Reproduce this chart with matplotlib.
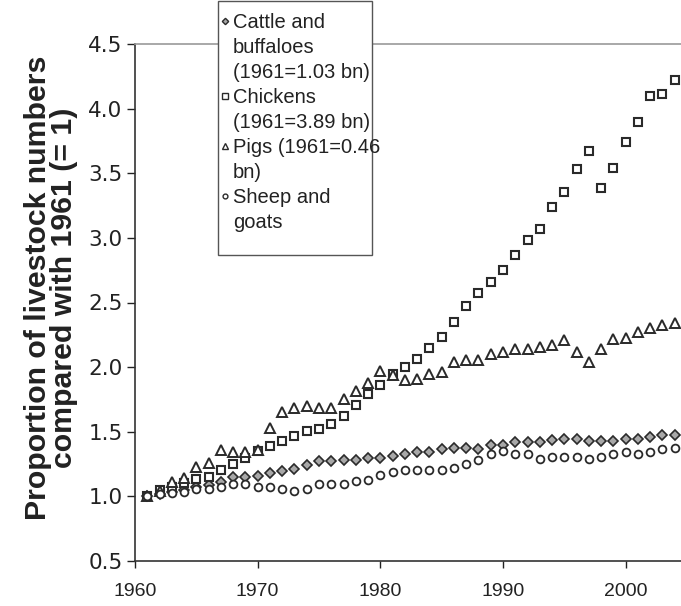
import matplotlib
matplotlib.use("Agg")
import matplotlib.pyplot as plt
from matplotlib.lines import Line2D
from matplotlib.patches import Rectangle

plt.rcParams['font.family'] = ['Liberation Sans', 'DejaVu Sans']

years = list(range(1961, 2005))

cattle = [1.00, 1.015, 1.03, 1.05, 1.07, 1.09, 1.115, 1.15, 1.15, 1.16,
          1.18, 1.20, 1.215, 1.245, 1.27, 1.27, 1.285, 1.285, 1.30, 1.30,
          1.315, 1.33, 1.345, 1.345, 1.365, 1.375, 1.375, 1.37, 1.40, 1.40,
          1.42, 1.42, 1.42, 1.435, 1.445, 1.445, 1.43, 1.43, 1.43, 1.445,
          1.445, 1.46, 1.475, 1.475]

chickens = [1.00, 1.05, 1.07, 1.10, 1.135, 1.15, 1.205, 1.25, 1.295, 1.35,
            1.39, 1.43, 1.465, 1.505, 1.52, 1.56, 1.62, 1.705, 1.79, 1.86,
            1.945, 2.00, 2.06, 2.145, 2.23, 2.35, 2.47, 2.57, 2.66, 2.755,
            2.87, 2.98, 3.07, 3.24, 3.355, 3.53, 3.67, 3.385, 3.54, 3.74,
            3.90, 4.10, 4.11, 4.225]

pigs = [1.00, 1.04, 1.11, 1.145, 1.225, 1.255, 1.36, 1.345, 1.34, 1.355,
        1.53, 1.655, 1.685, 1.70, 1.685, 1.685, 1.755, 1.815, 1.88, 1.97,
        1.94, 1.90, 1.91, 1.95, 1.96, 2.04, 2.055, 2.055, 2.105, 2.115,
        2.14, 2.14, 2.155, 2.17, 2.21, 2.115, 2.04, 2.14, 2.215, 2.225,
        2.27, 2.30, 2.325, 2.34]

sheep = [1.00, 1.015, 1.025, 1.03, 1.055, 1.06, 1.075, 1.095, 1.095, 1.075,
         1.075, 1.06, 1.045, 1.06, 1.095, 1.095, 1.095, 1.12, 1.13, 1.165,
         1.19, 1.205, 1.205, 1.205, 1.205, 1.22, 1.25, 1.28, 1.325, 1.35,
         1.33, 1.325, 1.29, 1.305, 1.305, 1.305, 1.29, 1.305, 1.325, 1.34,
         1.325, 1.34, 1.365, 1.375]

labels = ["Cattle and\nbuffaloes\n(1961=1.03 bn)",
          "Chickens\n(1961=3.89 bn)",
          "Pigs (1961=0.46\nbn)",
          "Sheep and\ngoats"]

xticks = [1960, 1970, 1980, 1990, 2000]
yticks = [0.5, 1.0, 1.5, 2.0, 2.5, 3.0, 3.5, 4.0, 4.5]

edge = '#2a2a2a'
txt = '#222222'
W, H = 681, 606
fig = plt.figure(figsize=(W / 100, H / 100), dpi=100)
# the plot area runs slightly past the right edge of the image (x axis ends at 2005)
ax = fig.add_axes([135 / W, 45 / H, 552 / W, 517 / H])

styles = [
    dict(marker='D', ms=5.2, mfc='#a8a8a8', mec=edge, mew=1.2),
    dict(marker='s', ms=6.0, mfc='white', mec=edge, mew=1.5),
    dict(marker='^', ms=7.2, mfc='white', mec=edge, mew=1.4),
    dict(marker='o', ms=5.6, mfc='white', mec=edge, mew=1.3),
]
for series, lab, st in zip([cattle, chickens, pigs, sheep], labels, styles):
    ax.plot(years, series, linestyle='none', label=lab, **st)

ax.set_xlim(1960, 2005)
ax.set_ylim(0.5, 4.5)
ax.set_xticks(xticks)
ax.set_xticklabels([str(v) for v in xticks])
ax.set_yticks(yticks)
ax.set_yticklabels([f"{v:.1f}" for v in yticks])

ax.tick_params(axis='both', labelsize=14, colors=txt, width=1.0, direction='out')
ax.tick_params(axis='x', pad=11, length=5)
ax.tick_params(axis='y', pad=3, length=6, labelsize=15.5)
for lab in ax.get_yticklabels():
    lab.set_family('DejaVu Sans')
for s in ['left', 'bottom']:
    ax.spines[s].set_color('#333333')
    ax.spines[s].set_linewidth(1.2)
ax.spines['top'].set_color('#9a9a9a')
ax.spines['top'].set_linewidth(1.2)
ax.spines['right'].set_visible(False)

fig.text(51 / W, 1 - 288 / H, "Proportion of livestock numbers\ncompared with 1961 (= 1)",
         rotation=90, ha='center', va='center', fontsize=21.8, fontweight='bold',
         color=txt, linespacing=0.89)

# legend box (drawn by hand so the markers sit on the first line of each entry)
box_l, box_t, box_r, box_b = 218, 1, 372, 255
fig.add_artist(Rectangle((box_l / W, 1 - box_b / H), (box_r - box_l) / W,
                         (box_b - box_t) / H, transform=fig.transFigure,
                         facecolor='white', edgecolor='#555555', lw=1.0, zorder=5))
line_pitch = 25.0
first_center = 20.5
leg_fs = 14.5
cap_half = 0.716 * leg_fs * 100 / 72 / 2
row = 0
for lab, st in zip(labels, styles):
    yc = first_center + row * line_pitch
    lst = dict(st)
    lst['ms'] = st['ms'] * 0.62
    lst['mew'] = 1.0
    fig.add_artist(Line2D([225 / W], [1 - yc / H], transform=fig.transFigure,
                          linestyle='none', zorder=6, **lst))
    for ln in lab.split('\n'):
        yc = first_center + row * line_pitch
        fig.text(233 / W, 1 - (yc + cap_half) / H, ln, ha='left', va='baseline',
                 fontsize=leg_fs, color=txt, zorder=6)
        row += 1

fig.savefig('out.png', dpi=100)
